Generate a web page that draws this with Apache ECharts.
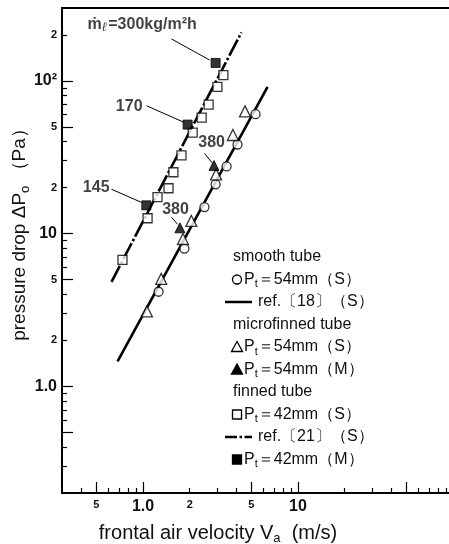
<!DOCTYPE html>
<html>
<head>
<meta charset="utf-8">
<script src="https://cdn.jsdelivr.net/npm/echarts@6/dist/echarts.min.js"></script>
<style>
  html, body { margin: 0; padding: 0; background: #fff; }
  #chart { width: 449px; height: 544px; }
</style>
</head>
<body>
<div id="chart"></div>
<script>
// smooth tube, Pt=54mm (S)
const smoothV = [1.26, 1.85, 2.49, 2.94, 3.46, 4.07, 5.32];
const smoothDP = [4.16, 7.98, 14.9, 21.0, 27.5, 38.3, 60.5];
// microfinned tube, Pt=54mm (S) / (M)
const microV = [1.06, 1.31, 1.81, 2.05, 2.96, 3.80, 4.55];
const microDP = [3.09, 5.05, 9.21, 12.1, 24.4, 44.2, 63.1];
const microMV = [1.73, 2.87];
const microMDP = [10.9, 27.9];
// finned tube, Pt=42mm (S) / (M)
const finnedV = [0.737, 1.07, 1.24, 1.46, 1.57, 1.77, 2.09, 2.39, 2.65, 3.02, 3.30];
const finnedDP = [6.72, 12.6, 17.3, 19.8, 25.2, 32.5, 45.8, 57.4, 69.8, 91.4, 109];
const finnedMV = [1.05, 1.94, 2.94];
const finnedMDP = [15.3, 51.7, 131];
// correlations, end points
const ref18V = [0.685, 6.36];
const ref18DP = [1.455, 91.4];
const ref21V = [0.626, 4.32];
const ref21DP = [4.83, 208];

// axes
const xLabelVals = [0.5, 1, 2, 5, 10];
const xLabelText = ['5', '1.0', '2', '5', '10'];
const xMajorTicks = [0.5, 1, 5, 10, 50];
const xMinorTicks = [0.4, 0.6, 0.7, 0.8, 0.9, 2, 3, 4, 6, 7, 8, 9, 20, 30, 40, 60, 70, 80, 90];
const yLabelVals = [1, 2, 5, 10, 20, 50, 100, 200];
const yLabelText = ['1.0', '2', '5', '10', '2', '5', '10²', '2'];
const yMajorTicks = [0.5, 1, 5, 10, 50, 100];
const yMinorTicks = [0.3, 0.4, 0.6, 0.7, 0.8, 0.9, 2, 3, 4, 6, 7, 8, 9, 20, 30, 40, 60, 70, 80, 90, 200];

// annotations (text anchor and arrows, in data units)
const noteText = ['{m|ṁ}{l|ℓ}{m|=300kg/m²h}', '170', '145', '380', '380'];
const noteV = [0.438, 0.993, 0.608, 2.77, 1.62];
const noteDP = [232, 67.7, 20.1, 39.5, 14.4];
const noteAlign = ['left', 'right', 'right', 'center', 'center'];
const arrowFromV = [1.527, 1.053, 0.626, 2.493, 1.527];
const arrowFromDP = [188, 68.7, 19.5, 33.5, 12.8];
const arrowToV = [2.686, 1.853, 0.978, 2.808, 1.669];
const arrowToDP = [137, 53.3, 16.0, 28.8, 11.5];

// legend
const legendText = [
  'smooth tube', 'P{sub|t}＝54mm（S）', 'ref.〔18〕（S）',
  'microfinned tube', 'P{sub|t}＝54mm（S）', 'P{sub|t}＝54mm（M）',
  'finned tube', 'P{sub|t}＝42mm（S）', 'ref.〔21〕（S）', 'P{sub|t}＝42mm（M）'
];
const legendKind = ['head', 'circle', 'solid', 'head', 'tri', 'triFill', 'head', 'rect', 'dashdot', 'rectFill'];

const FONT = "'Liberation Sans Narrow', 'Liberation Sans', Arial, sans-serif";
const INK = '#111';
const pairs = (xs, ys) => xs.map((x, i) => [x, ys[i]]);

function labelFmt(vals, texts) {
  const big = ['1.0', '10', '10²'];
  return (v) => {
    const i = vals.findIndex((a) => Math.abs(a - v) / a < 1e-6);
    if (i < 0) return '';
    const t = texts[i];
    return big.includes(t) ? `{b|${t}}` : `{s|${t}}`;
  };
}
const labelRich = {
  b: { fontSize: 16, fontWeight: 'bold', fontFamily: FONT, color: INK },
  s: { fontSize: 11, fontWeight: 'bold', fontFamily: FONT, color: INK }
};

function logAxis(min, max, pos, ticks, len, labels) {
  return {
    type: 'log',
    logBase: 10,
    min,
    max,
    position: pos,
    axisLine: { show: !!labels, lineStyle: { color: '#000', width: 2 } },
    axisTick: { show: true, inside: true, length: len, customValues: ticks, lineStyle: { color: '#000', width: 1.2 } },
    axisLabel: labels
      ? { show: true, customValues: labels.vals, formatter: labelFmt(labels.vals, labels.text), rich: labelRich, margin: pos === 'left' ? 5 : 6 }
      : { show: false },
    splitLine: { show: false },
    minorTick: { show: false }
  };
}

const chart = echarts.init(document.getElementById('chart'), null, { renderer: 'canvas' });

const openStyle = { color: '#fff', borderColor: '#000', borderWidth: 1.3 };
const fillStyle = { color: '#000', borderColor: '#000', borderWidth: 1 };

// legend graphics
const LX = 233, LY0 = 257, LDY = 22.5;
const legendGraphics = [];
legendText.forEach((txt, i) => {
  const y = LY0 + i * LDY;
  const kind = legendKind[i];
  let textX = 244;
  if (kind === 'head') textX = LX;
  if (kind === 'solid' || kind === 'dashdot') {
    textX = 258;
    legendGraphics.push({
      type: 'line',
      shape: { x1: 225, y1: y, x2: 252, y2: y },
      style: { stroke: '#000', lineWidth: 2.5, lineDash: kind === 'dashdot' ? [12, 2.5, 2.5, 2.5] : null }
    });
  }
  const cx = 237;
  if (kind === 'circle') {
    legendGraphics.push({ type: 'circle', shape: { cx, cy: y, r: 4.5 }, style: { fill: '#fff', stroke: '#000', lineWidth: 1.3 } });
  }
  if (kind === 'tri' || kind === 'triFill') {
    legendGraphics.push({
      type: 'polygon',
      shape: { points: [[cx, y - 5.5], [cx + 5.5, y + 4.5], [cx - 5.5, y + 4.5]] },
      style: { fill: kind === 'tri' ? '#fff' : '#000', stroke: '#000', lineWidth: 1.3 }
    });
  }
  if (kind === 'rect' || kind === 'rectFill') {
    legendGraphics.push({
      type: 'rect',
      shape: { x: cx - 4.5, y: y - 4.5, width: 9, height: 9 },
      style: { fill: kind === 'rect' ? '#fff' : '#000', stroke: '#000', lineWidth: 1.3 }
    });
  }
  legendGraphics.push({
    type: 'text',
    x: textX,
    y: y,
    style: {
      text: txt,
      fill: INK,
      font: `16px ${FONT}`,
      textAlign: 'left',
      textVerticalAlign: 'middle',
      rich: { sub: { fontSize: 11, fontFamily: FONT, fill: INK, padding: [9, 0, 0, 0] } }
    }
  });
});

const option = {
  animation: false,
  backgroundColor: '#fff',
  grid: { left: 62, top: 8, right: -4, bottom: 51, show: true, borderColor: '#000', borderWidth: 2, outerBoundsMode: 'none' },
  xAxis: [
    logAxis(0.3, 100, 'bottom', xMinorTicks, 5, { vals: xLabelVals, text: xLabelText }),
    logAxis(0.3, 100, 'bottom', xMajorTicks, 11, null)
  ],
  yAxis: [
    logAxis(0.2, 300, 'left', yMinorTicks, 5, { vals: yLabelVals, text: yLabelText }),
    logAxis(0.2, 300, 'left', yMajorTicks, 11, null)
  ],
  graphic: [
    {
      type: 'text',
      x: 20,
      y: 230,
      rotation: Math.PI / 2,
      style: {
        text: 'pressure drop ΔP{sub|o} （Pa）',
        fill: INK,
        font: `19px ${FONT}`,
        textAlign: 'center',
        textVerticalAlign: 'middle',
        rich: { sub: { fontSize: 13, fontFamily: FONT, fill: INK, padding: [10, 0, 0, 0] } }
      }
    },
    {
      type: 'text',
      x: 218,
      y: 533,
      style: {
        text: 'frontal air velocity V{sub|a}  (m/s)',
        fill: INK,
        font: `20px ${FONT}`,
        textAlign: 'center',
        textVerticalAlign: 'middle',
        rich: { sub: { fontSize: 13, fontFamily: FONT, fill: INK, padding: [10, 0, 0, 0] } }
      }
    },
    ...legendGraphics
  ],
  series: [
    {
      name: 'ref.[18]',
      type: 'line',
      data: pairs(ref18V, ref18DP),
      symbol: 'none',
      lineStyle: { color: '#000', width: 2.6 },
      z: 2
    },
    {
      name: 'ref.[21]',
      type: 'line',
      data: pairs(ref21V, ref21DP),
      symbol: 'none',
      lineStyle: { color: '#000', width: 2.6, type: [18, 2.5, 2.5, 2.5] },
      z: 2
    },
    { name: 'smooth S', type: 'scatter', data: pairs(smoothV, smoothDP), symbol: 'circle', symbolSize: 9, itemStyle: openStyle, z: 3 },
    { name: 'micro S', type: 'scatter', data: pairs(microV, microDP), symbol: 'triangle', symbolSize: 11, itemStyle: openStyle, z: 3 },
    { name: 'micro M', type: 'scatter', data: pairs(microMV, microMDP), symbol: 'triangle', symbolSize: 10, itemStyle: fillStyle, z: 4 },
    { name: 'finned S', type: 'scatter', data: pairs(finnedV, finnedDP), symbol: 'rect', symbolSize: 9, itemStyle: openStyle, z: 3 },
    { name: 'finned M', type: 'scatter', data: pairs(finnedMV, finnedMDP), symbol: 'rect', symbolSize: 9, itemStyle: fillStyle, z: 4 },
    {
      name: 'notes',
      type: 'scatter',
      symbolSize: 0,
      silent: true,
      z: 5,
      data: noteText.map((t, i) => ({
        value: [noteV[i], noteDP[i]],
        label: { align: noteAlign[i] }
      })),
      label: {
        show: true,
        position: [0, 0],
        verticalAlign: 'middle',
        formatter: (p) => noteText[p.dataIndex],
        fontFamily: FONT,
        fontSize: 16,
        fontWeight: 'bold',
        color: INK,
        rich: {
          m: { fontFamily: FONT, fontSize: 16, fontWeight: 'bold', color: INK },
          l: { fontFamily: 'DejaVu Serif', fontSize: 13, fontWeight: 'bold', fontStyle: 'italic', color: INK, padding: [6, 1, 0, 0] }
        }
      },
      markLine: {
        silent: true,
        symbol: ['none', 'arrow'],
        symbolSize: [0, 7],
        label: { show: false },
        lineStyle: { color: '#000', width: 1, type: 'solid' },
        data: arrowFromV.map((v, i) => [
          { coord: [v, arrowFromDP[i]] },
          { coord: [arrowToV[i], arrowToDP[i]] }
        ])
      }
    }
  ]
};

chart.setOption(option);
</script>
</body>
</html>
